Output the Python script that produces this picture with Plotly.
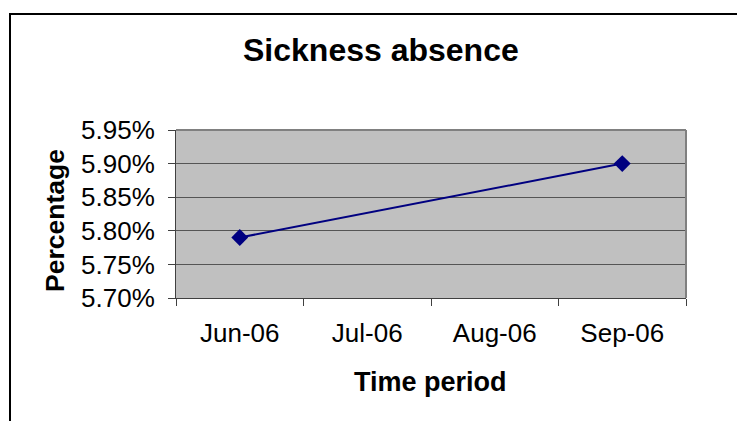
import plotly.graph_objects as go

categories = ["Jun-06", "Jul-06", "Aug-06", "Sep-06"]
values = [0.0579, None, None, 0.0590]
y_ticks = [0.0570, 0.0575, 0.0580, 0.0585, 0.0590, 0.0595]

W, H = 737, 421
L, R, T, B = 176, 686, 130, 298
pw, ph = R - L, B - T

def px(x):
    return (x - L) / pw

def py(y):
    return (B - y) / ph

fig = go.Figure()
fig.add_trace(go.Scatter(
    x=categories, y=values, mode="lines+markers", connectgaps=True,
    line=dict(color="#000080", width=2),
    marker=dict(symbol="diamond", size=13, color="#000080"),
    showlegend=False, cliponaxis=False,
))

font = "Liberation Sans, Arial, sans-serif"
fig.update_layout(
    width=W, height=H,
    margin=dict(l=L, r=W - R, t=T, b=H - B),
    paper_bgcolor="white", plot_bgcolor="#C0C0C0",
    font=dict(family=font, color="black", size=26),
    xaxis=dict(
        type="category", categoryorder="array", categoryarray=categories,
        range=[-0.5, 3.5], tickson="boundaries", ticks="outside", ticklen=7,
        tickcolor="#404040", showgrid=False, showline=True, linecolor="#404040",
        linewidth=1, zeroline=False, tickfont=dict(size=26), ticklabelstandoff=12,
    ),
    yaxis=dict(
        range=[0.0570, 0.0595], tickvals=y_ticks, tickformat=".2%",
        ticks="outside", ticklen=7, tickcolor="#404040", showgrid=True,
        gridcolor="#555555", gridwidth=1, showline=True, linecolor="#404040",
        linewidth=1, zeroline=False, tickfont=dict(size=26), ticklabelstandoff=8,
    ),
)

# chart frame and plot border
fig.add_shape(type="rect", xref="paper", yref="paper",
              x0=px(10), x1=px(780), y0=py(460), y1=py(14),
              line=dict(color="black", width=2), layer="above")
fig.add_shape(type="line", xref="paper", yref="paper", x0=0, x1=1, y0=1, y1=1,
              line=dict(color="#808080", width=2))
fig.add_shape(type="line", xref="paper", yref="paper", x0=1, x1=1, y0=0, y1=1,
              line=dict(color="#808080", width=2))

fig.add_annotation(text="<b>Sickness absence</b>", xref="paper", yref="paper",
                   x=px(381), y=py(50), showarrow=False, font=dict(size=32),
                   xanchor="center", yanchor="middle")
fig.add_annotation(text="<b>Time period</b>", xref="paper", yref="paper",
                   x=px(430), y=py(382), showarrow=False, font=dict(size=27),
                   xanchor="center", yanchor="middle")
fig.add_annotation(text="<b>Percentage</b>", xref="paper", yref="paper",
                   x=px(55), y=py(221), showarrow=False, font=dict(size=26.5),
                   textangle=-90, xanchor="center", yanchor="middle")

fig.write_html("out.html", config={"displayModeBar": False},
               post_script="document.body.style.margin='0';document.body.style.overflow='hidden';")
